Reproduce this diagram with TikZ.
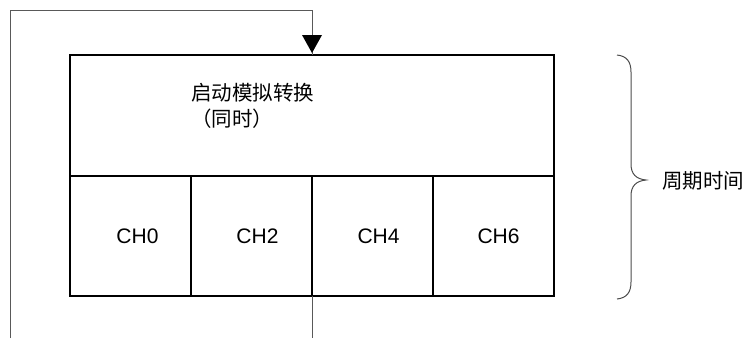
\documentclass[tikz,border=0pt]{standalone}
\usepackage{fontspec}
\setmainfont{Liberation Sans}
\newfontfamily\cjk{Noto Sans CJK SC}
\usetikzlibrary{arrows.meta}
\begin{document}
\begin{tikzpicture}[x=1pt,y=-1pt,
  boxst/.style={draw=black, line width=2pt, inner sep=0pt, outer sep=0pt, anchor=north west},
  cellst/.style={boxst, minimum width=121pt, minimum height=120pt},
  chlabel/.style={font=\fontsize{21}{25}\selectfont, inner sep=0pt},
  cjklabel/.style={font=\cjk\fontsize{20.5}{26}\selectfont, inner sep=0pt, align=left},
  feed/.style={draw=black!65, line width=1pt}]
\useasboundingbox (0,0) rectangle (746,338);
\node[boxst, minimum width=484pt, minimum height=121pt] (conv) at (70,55) {};
\node[cellst] (c0) at (70,176) {};
\node[cellst] (c2) at (191,176) {};
\node[cellst] (c4) at (312,176) {};
\node[cellst] (c6) at (433,176) {};
\node[chlabel] (t0) at ([xshift=7pt]c0.center) {CH0};
\node[chlabel] (t2) at ([xshift=6pt]c2.center) {CH2};
\node[chlabel] (t4) at ([xshift=6pt]c4.center) {CH4};
\node[chlabel] (t6) at ([xshift=5pt]c6.center) {CH6};
\node[cjklabel, anchor=north west] (conv text) at (191,83) {启动模拟转换\\（同时）};
% feedback loop
\coordinate (fbstart) at (10,338);
\coordinate (fbcorner1) at (10,10);
\coordinate (fbcorner2) at (312,10);
\draw[feed] (fbstart) -- (fbcorner1) -- (fbcorner2) -- (fbcorner2 |- conv.north);
\draw[draw=none, fill=black] (302,35) -- (322,35) -- (312,53) -- cycle;
\coordinate (outend) at (312,338);
\draw[feed] (c4.south west) -- (outend);
% brace
\coordinate (brtop) at (617,55);
\coordinate (brtip) at (646,180);
\coordinate (brbot) at (617,299);
\draw[draw=black!70, line width=1pt] (brtop) .. controls (627,56) and (631,62) .. (631,72)
  -- (631,164) .. controls (631,174) and (636,179) .. (brtip)
  .. controls (636,181) and (631,186) .. (631,196)
  -- (631,282) .. controls (631,292) and (627,298) .. (brbot);
\node[cjklabel, anchor=west] (period) at (662,181) {周期时间};
\end{tikzpicture}
\end{document}
